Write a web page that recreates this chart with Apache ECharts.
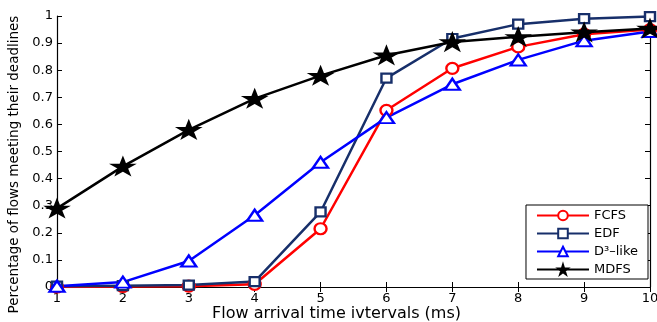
<!DOCTYPE html>
<html>
<head>
<meta charset="utf-8">
<script src="https://cdn.jsdelivr.net/npm/echarts@6/dist/echarts.min.js"></script>
<style>
html, body { margin: 0; padding: 0; background: #fff; }
#chart { width: 657px; height: 322px; }
</style>
</head>
<body>
<div id="chart"></div>
<script>
// flow arrival time intervals (ms)
const intervals = [1, 2, 3, 4, 5, 6, 7, 8, 9, 10]
const fcfs = [0.0, 0.002, 0.003, 0.01, 0.215, 0.652, 0.807, 0.886, 0.933, 0.95]
const edf = [0.003, 0.005, 0.007, 0.02, 0.277, 0.771, 0.917, 0.97, 0.99, 0.998]
const d3like = [0.003, 0.018, 0.096, 0.265, 0.46, 0.625, 0.748, 0.838, 0.909, 0.943]
const mdfs = [0.29, 0.445, 0.58, 0.695, 0.78, 0.855, 0.904, 0.923, 0.94, 0.954]

const star = 'path://M50,0 L61,35 L98,35 L68,57 L79,91 L50,70 L21,91 L32,57 L2,35 L39,35 Z'
const font = 'DejaVu Sans, sans-serif'

const pairs = (ys) => intervals.map((x, i) => [x, ys[i]])

// symbols are a bit wider than tall in the original (stretched figure)
const mkSeries = (name, ys, color, symbol, size, filled) => ({
	name: name,
	type: 'line',
	data: pairs(ys),
	symbol: symbol,
	symbolSize: size,
	showAllSymbol: true,
	lineStyle: { color: color, width: 2.5 },
	itemStyle: { color: filled ? color : '#fff', borderColor: color, borderWidth: 2.3 },
	emphasis: { disabled: true },
	z: 3,
})

const chart = echarts.init(document.getElementById('chart'))

const axisCommon = {
	type: 'value',
	axisLine: { show: true, lineStyle: { color: '#000', width: 1.2 } },
	axisTick: { show: true, inside: true, length: 5, lineStyle: { color: '#000' } },
	splitLine: { show: false },
}

chart.setOption({
	animation: false,
	grid: { left: 57, right: 7, top: 16, bottom: 35, outerBoundsMode: 'none' },
	legend: {
		right: 9,
		top: 205,
		orient: 'vertical',
		itemWidth: 52,
		itemHeight: 12,
		itemGap: 5,
		padding: [4, 10, 3, 10],
		borderColor: '#000',
		borderWidth: 1,
		backgroundColor: '#fff',
		textStyle: { fontFamily: font, fontSize: 13, color: '#000' },
		data: ['FCFS', 'EDF', 'D³–like', 'MDFS'],
	},
	xAxis: [
		Object.assign({}, axisCommon, {
			min: 1, max: 10, interval: 1,
			position: 'bottom',
			axisLabel: { color: '#000', fontFamily: font, fontSize: 13, margin: 5 },
			name: 'Flow arrival time ivtervals (ms)',
			nameLocation: 'middle',
			nameMoveOverlap: false,
			nameGap: 19,
			nameTextStyle: { color: '#000', fontFamily: font, fontSize: 16, padding: [0, 34, 0, 0] },
		}),
		Object.assign({}, axisCommon, {
			min: 1, max: 10, interval: 1,
			position: 'top',
			axisLabel: { show: false },
		}),
	],
	yAxis: [
		Object.assign({}, axisCommon, {
			min: 0, max: 1, interval: 0.1,
			position: 'left',
			axisLabel: { color: '#000', fontFamily: font, fontSize: 13, margin: 4 },
			name: 'Percentage of flows meeting their deadlines',
			nameLocation: 'middle',
			nameMoveOverlap: false,
			nameGap: 36,
			nameTextStyle: { color: '#000', fontFamily: font, fontSize: 13.5, padding: [0, 26, 0, 0] },
		}),
		Object.assign({}, axisCommon, {
			min: 0, max: 1, interval: 0.1,
			position: 'right',
			axisLabel: { show: false },
		}),
	],
	series: [
		mkSeries('FCFS', fcfs, '#ff0000', 'circle', [12, 11], false),
		mkSeries('EDF', edf, '#172f6a', 'rect', [10, 9], false),
		mkSeries('D³–like', d3like, '#0000ff', 'triangle', [15, 11], false),
		mkSeries('MDFS', mdfs, '#000000', star, [20, 15], true),
	],
})
</script>
</body>
</html>
